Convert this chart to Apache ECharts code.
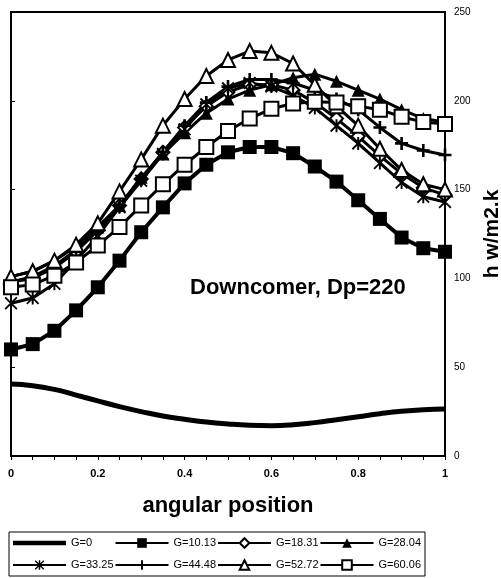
<!DOCTYPE html>
<html>
<head>
<meta charset="utf-8">
<script src="https://cdn.jsdelivr.net/npm/echarts@6/dist/echarts.min.js"></script>
<style>
  html, body { margin: 0; padding: 0; background: #fff; }
  #chart { width: 501px; height: 578px; }
</style>
</head>
<body>
<div id="chart"></div>
<script>
// Angular position around the tube (fraction of the circumference)
const positions = [0, 0.05, 0.1, 0.15, 0.2, 0.25, 0.3, 0.35, 0.4, 0.45, 0.5,
                   0.55, 0.6, 0.65, 0.7, 0.75, 0.8, 0.85, 0.9, 0.95, 1];

// Heat transfer coefficient h (W/m2.K) for each mass flux G
const hG0     = [40.5, 39.6, 37.5, 34.3, 31, 27.8, 25, 22.5, 20.7, 19.1, 18,
                 17.3, 17.1, 17.6, 18.8, 20.4, 22.1, 23.8, 25.2, 26.1, 26.5];
const hG1013  = [60, 63, 70.5, 82, 95, 110, 126, 140, 153.5, 164, 171,
                 174, 174, 170.5, 163, 154.5, 144, 133.5, 123, 117, 115];
const hG1831  = [98, 100, 106, 115, 127, 141, 156, 171, 185, 197, 205,
                 209, 209, 206, 199, 190, 180, 169, 159, 151, 147];
const hG2804  = [101, 104, 110, 118, 129, 141, 157, 170, 182, 193, 201,
                 206, 209, 213, 215, 211, 206, 201, 195, 190, 188];
const hG3325  = [86, 89, 97, 110, 124, 140, 155, 170, 184, 198, 207,
                 210, 208, 203, 196, 186, 176, 165, 154, 146, 143];
const hG4448  = [98, 101, 107, 116, 128, 141, 156, 171, 186, 199, 208,
                 212, 212, 210, 206, 201, 195, 185, 176, 172, 169.5];
const hG5272  = [101, 104, 110, 119, 131, 149, 167, 186, 201, 214, 223,
                 228, 227, 221, 209, 197, 186, 173, 161, 153, 150];
const hG6006  = [95, 96.5, 101.5, 109, 118.5, 129, 141, 153, 164, 174, 183,
                 190, 195.5, 198.5, 199.5, 199, 197, 195, 191, 188, 187];

const seriesNames = ['G=0', 'G=10.13', 'G=18.31', 'G=28.04',
                     'G=33.25', 'G=44.48', 'G=52.72', 'G=60.06'];
const xTickLabels = ['0', '0.2', '0.4', '0.6', '0.8', '1'];
const yTickLabels = ['0', '50', '100', '150', '200', '250'];

const plusPath = 'path://M8,0 L12,0 L12,8 L20,8 L20,12 L12,12 L12,20 L8,20 L8,12 L0,12 L0,8 L8,8 Z';
const starPath = 'path://M8.5,0 L11.5,0 L11.5,20 L8.5,20 Z ' +
                 'M2,0 L20,18 L18,20 L0,2 Z ' +
                 'M18,0 L20,2 L2,20 L0,18 Z';
// plain thick bar used as the key for the marker-less curve
const barIcon = 'path://M0,0 L53,0 L53,4.5 L0,4.5 Z';

const FONT = 'Liberation Sans, Arial, sans-serif';

function pairs(vals) {
  return positions.map((x, i) => [x, vals[i]]);
}

function markerSeries(name, vals, symbol, size, filled, lineW) {
  return {
    name: name,
    type: 'line',
    data: pairs(vals),
    symbol: symbol,
    symbolSize: size,
    showAllSymbol: true,
    lineStyle: { color: '#000', width: lineW || 3 },
    itemStyle: filled
      ? { color: '#000', borderColor: '#000', borderWidth: 0 }
      : { color: '#fff', borderColor: '#000', borderWidth: 2 },
    emphasis: { disabled: true },
    animation: false
  };
}

const chart = echarts.init(document.getElementById('chart'), null, { renderer: 'canvas' });

chart.setOption({
  backgroundColor: '#fff',
  animation: false,
  textStyle: { fontFamily: FONT },
  title: {
    text: 'Downcomer, Dp=220',
    left: 185,
    top: 272,
    textStyle: { fontFamily: FONT, fontSize: 22, fontWeight: 'bold', color: '#000' }
  },
  grid: {
    left: 11, right: 56, top: 12, bottom: 122,
    containLabel: false,
    outerBoundsMode: 'none',
    show: true, borderColor: '#000', borderWidth: 2, backgroundColor: 'transparent'
  },
  legend: {
    data: seriesNames.map((n, i) => (i === 0 ? { name: n, icon: barIcon } : { name: n })),
    left: 9,
    top: 532,
    width: 416,
    orient: 'horizontal',
    padding: [0, 3, 0, 3],
    itemGap: 0,
    itemWidth: 53,
    itemHeight: 12,
    borderColor: '#000',
    borderWidth: 1,
    textStyle: {
      fontFamily: FONT, fontSize: 11, color: '#000',
      width: 43.5, lineHeight: 22, overflow: 'none'
    },
    selectedMode: false
  },
  xAxis: {
    type: 'value',
    min: 0, max: 1, interval: 0.2,
    name: 'angular position',
    nameLocation: 'middle',
    nameGap: 39,
    nameTextStyle: { fontFamily: FONT, fontSize: 22, fontWeight: 'bold', color: '#000' },
    axisLine: { show: true, lineStyle: { color: '#000', width: 2 } },
    axisTick: { show: true, length: 4, inside: false, lineStyle: { color: '#000', width: 1 } },
    minorTick: { show: true, splitNumber: 4, length: 4, lineStyle: { color: '#000', width: 1 } },
    splitLine: { show: false },
    axisLabel: {
      margin: 12, fontFamily: FONT, fontSize: 11, fontWeight: 'bold', color: '#000',
      formatter: (v) => xTickLabels[Math.round(v / 0.2)]
    }
  },
  yAxis: {
    type: 'value',
    position: 'right',
    min: 0, max: 250, interval: 50,
    name: 'h w/m2.k',
    nameLocation: 'middle',
    nameRotate: 90,
    nameGap: 36,
    nameTextStyle: { fontFamily: FONT, fontSize: 21, fontWeight: 'bold', color: '#000' },
    axisLine: { show: true, lineStyle: { color: '#000', width: 2 } },
    axisTick: { show: true, length: 4, lineStyle: { color: '#000', width: 1 } },
    splitLine: { show: false },
    axisLabel: {
      margin: 9, fontFamily: FONT, fontSize: 10, color: '#000',
      formatter: (v) => yTickLabels[Math.round(v / 50)]
    }
  },
  series: [
    {
      name: seriesNames[0],
      type: 'line',
      data: pairs(hG0),
      smooth: true,
      symbol: 'none',
      lineStyle: { color: '#000', width: 5 },
      itemStyle: { color: '#000' },
      emphasis: { disabled: true },
      animation: false
    },
    markerSeries(seriesNames[1], hG1013, 'rect', 14, true, 4),
    markerSeries(seriesNames[2], hG1831, 'diamond', 13, false, 3),
    markerSeries(seriesNames[3], hG2804, 'triangle', 13, true, 3),
    markerSeries(seriesNames[4], hG3325, starPath, 13, true, 3),
    markerSeries(seriesNames[5], hG4448, plusPath, 13, true, 3),
    markerSeries(seriesNames[6], hG5272, 'triangle', 14, false, 3),
    markerSeries(seriesNames[7], hG6006, 'rect', 14, false, 3)
  ]
});
</script>
</body>
</html>
